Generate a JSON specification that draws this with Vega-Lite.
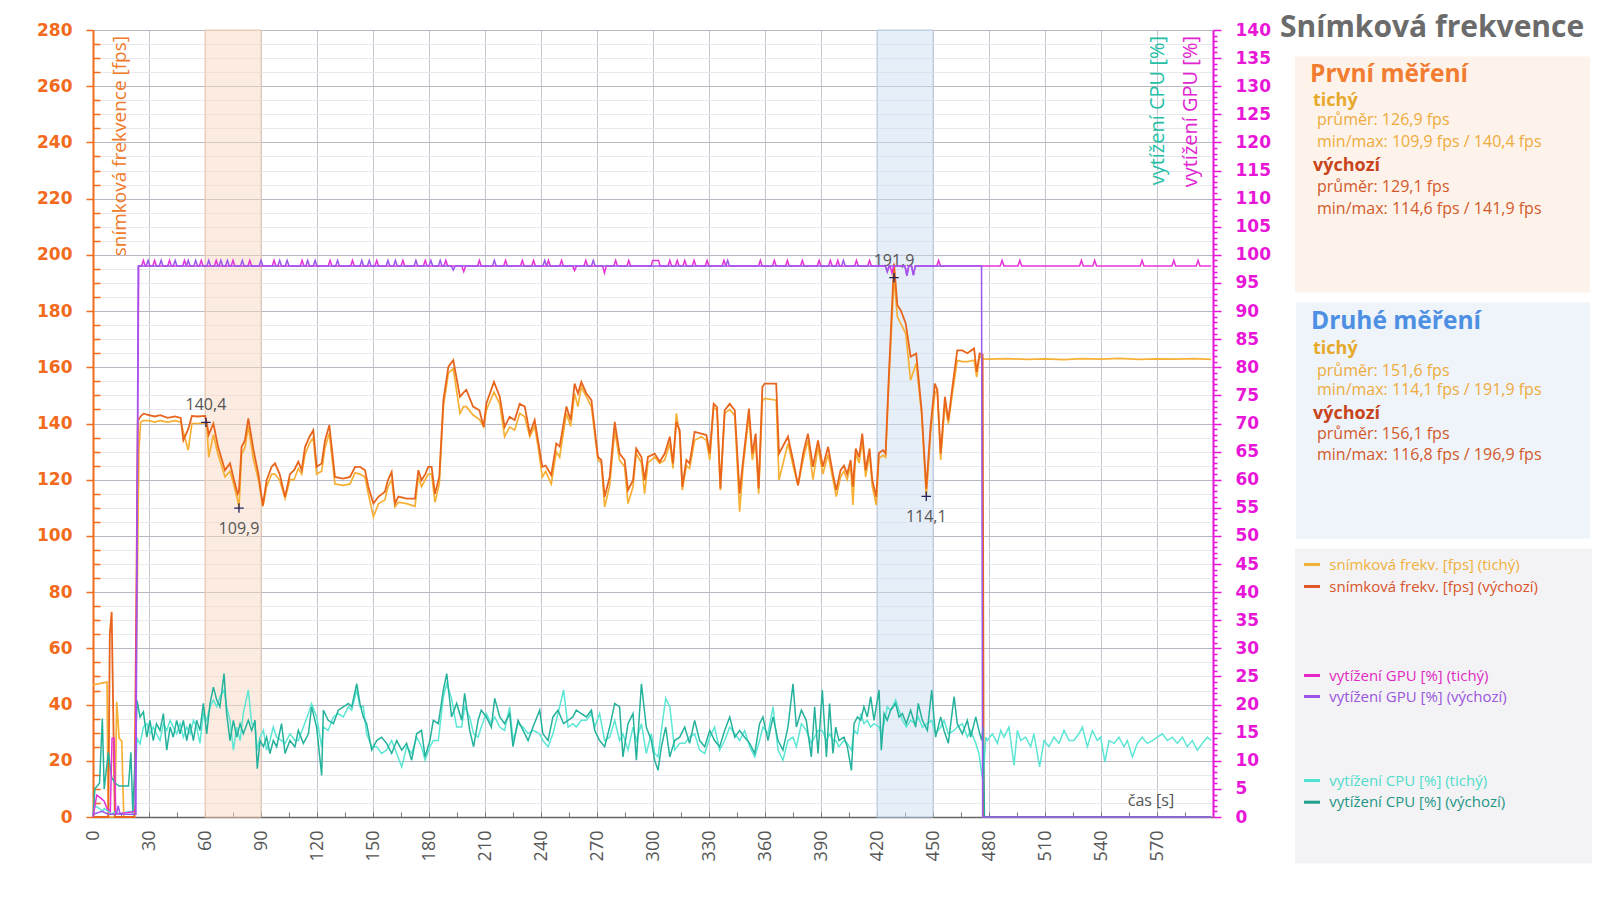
{
"$schema": "https://vega.github.io/schema/vega-lite/v6.json",
"background": "white",
"padding": {"left": 36, "top": 12, "right": 0, "bottom": 0},
"config": {"view": {"stroke": null}, "font": "Open Sans"},
"spacing": 67,
"bounds": "flush",
"datasets": {
"bands": [{"t":60,"t2":90,"band":"první"},{"t":420,"t2":450,"band":"druhé"}],
"ann": [{"t":60.5,"v":140.4,"label":"140,4","pos":"up"},{"t":78.2,"v":109.9,"label":"109,9","pos":"down"},{"t":429.1,"v":191.9,"label":"191,9","pos":"up"},{"t":446.4,"v":114.1,"label":"114,1","pos":"down"}],
"fps": [
{"t":0,"a":47,"b":0},{"t":7.5,"a":48,"b":0},{"t":8.2,"a":0,"b":0},{"t":9,"b":65},{"t":10,"b":73},{"t":11.7,"a":0,"b":0},{"t":12.7,"a":41},{"t":14,"a":28},{"t":15.4,"a":27},{"t":16.5,"a":0},{"t":22.2,"a":0,"b":0},{"t":24,"b":141},{"t":24.6,"a":130.5},{"t":25.5,"a":140.5,"b":142.5},
{"t":27,"a":141,"b":143.5},{"t":30,"a":141,"b":143},{"t":33,"a":140.5,"b":142.5},{"t":36,"a":141,"b":143},{"t":40,"a":140.5,"b":142},{"t":44,"a":141,"b":142.5},{"t":47,"a":140.5,"b":142},{"t":48.4,"a":137,"b":134},{"t":51,"a":130.5,"b":138},{"t":53,"a":140,"b":142.7},{"t":56,"a":140,"b":142.5},{"t":60,"a":140.2,"b":142.7},{"t":61,"a":139,"b":140},{"t":62,"a":128,"b":136},{"t":64.5,"a":136,"b":140},{"t":67,"a":129,"b":131.7},{"t":70.7,"a":121,"b":123.4},{"t":73.4,"a":123,"b":125.8},{"t":75.5,"a":118,"b":120},{"t":77.5,"a":112.7,"b":115},{"t":78.2,"a":109.9,"b":116},{"t":79.6,"a":129,"b":131.7},{"t":81.4,"a":131.5,"b":134},{"t":83.2,"a":139,"b":141.8},{"t":86,"a":127,"b":130.5},{"t":88.6,"a":120,"b":122},{"t":91,"a":110.5,"b":110.8},{"t":93,"a":117.5,"b":119.8},{"t":95.7,"a":122,"b":124.6},{"t":97.5,"a":122,"b":125.8},{"t":100,"a":119.8,"b":122},{"t":102.9,"a":113.3,"b":113.9},{"t":105.5,"a":120,"b":122},{"t":107.7,"a":120,"b":123.4},{"t":110,"a":124,"b":126.4},{"t":111.8,"a":122,"b":123.4},{"t":113.6,"a":129,"b":131.7},{"t":116,"a":133,"b":135.3},{"t":118,"a":135,"b":137.6},{"t":119.8,"a":122,"b":124.6},{"t":122.5,"a":123,"b":125.8},{"t":124.3,"a":131.5,"b":134},{"t":126.6,"a":136.5,"b":139.4},{"t":129.6,"a":118.5,"b":121},{"t":134,"a":118,"b":120.4},{"t":137.7,"a":118.5,"b":121},{"t":140.4,"a":122.5,"b":124.6},{"t":143,"a":122,"b":124.6},{"t":145.7,"a":121,"b":123.4},{"t":147.5,"a":115,"b":117.5},{"t":150.2,"a":106.8,"b":111.5},{"t":153,"a":111.5,"b":114},{"t":156.4,"a":112.8,"b":115.7},{"t":158,"a":117.5,"b":119.8},{"t":160,"a":120,"b":122.8},{"t":161.8,"a":110.3,"b":111.5},{"t":163.6,"a":112,"b":114},{"t":168,"a":111.5,"b":113.3},{"t":172.5,"a":110.5,"b":113.3},{"t":174.3,"a":121,"b":123.4},{"t":176,"a":117.5,"b":119.8},{"t":178,"a":120,"b":122},{"t":179.6,"a":122,"b":124.6},{"t":181.4,"a":122,"b":124.6},{"t":183.2,"a":112,"b":115},{"t":185.5,"a":118.5,"b":121},{"t":187.7,"a":146,"b":148.3},{"t":190.4,"a":158,"b":160.2},{"t":193,"a":159.5,"b":162.5},{"t":196.6,"a":143.6,"b":149.5},{"t":198.5,"a":146,"b":151},{"t":200,"a":146,"b":152},{"t":203.6,"a":143,"b":146},{"t":207,"a":141.5,"b":144.7},{"t":209.3,"a":138.8,"b":138.8},{"t":210.7,"a":144.7,"b":147},{"t":214.8,"a":151.2,"b":154.8},{"t":217.9,"a":147,"b":149.5},{"t":220.5,"a":135.3,"b":138.8},{"t":223.2,"a":138.8,"b":142.4},{"t":225.9,"a":137.6,"b":141.2},{"t":228.6,"a":143.6,"b":147},{"t":231.3,"a":142.4,"b":146},{"t":234,"a":135.3,"b":136.4},{"t":236.6,"a":139,"b":141.2},{"t":238.4,"a":132,"b":134},{"t":240.7,"a":121,"b":124.6},{"t":242.5,"a":123,"b":125},{"t":245.5,"a":118.5,"b":121.6},{"t":248.2,"a":130,"b":132.9},{"t":250,"a":128,"b":131.8},{"t":253.6,"a":143.6,"b":146},{"t":255.9,"a":139,"b":141.2},{"t":258,"a":150.7,"b":154.2},{"t":259.8,"a":146,"b":150.7},{"t":261.6,"a":153,"b":154.8},{"t":264.3,"a":149.5,"b":150.7},{"t":267,"a":146,"b":148.3},{"t":270.5,"a":127,"b":128.1},{"t":272.3,"a":126,"b":127},{"t":274.1,"a":110.3,"b":113.9},{"t":276.8,"a":118,"b":121},{"t":279.5,"a":137.6,"b":140.6},{"t":282.1,"a":127,"b":129.3},{"t":284.8,"a":124.6,"b":127},{"t":286.6,"a":111.5,"b":116.3},{"t":289.3,"a":117.5,"b":119.8},{"t":291,"a":129.3,"b":131.1},{"t":293.8,"a":126,"b":128.1},{"t":295.5,"a":115,"b":119.8},{"t":297.3,"a":126,"b":128.1},{"t":300.9,"a":128.1,"b":129.3},{"t":303.6,"a":125.8,"b":126.4},{"t":306.3,"a":127,"b":129.3},{"t":309,"a":133,"b":135.3},{"t":310.7,"a":124,"b":125.8},{"t":312.5,"a":143.6,"b":140.6},{"t":314.3,"a":136,"b":137.6},{"t":315.7,"a":116.3,"b":117.5},{"t":317.9,"a":125,"b":127},{"t":319.6,"a":124,"b":125.8},{"t":322.3,"a":134,"b":137},{"t":325.9,"a":135.3,"b":136.4},{"t":328.6,"a":134,"b":135.9},{"t":330.4,"a":127,"b":129.3},{"t":332.5,"a":145.8,"b":147},{"t":334.3,"a":144.7,"b":145.8},{"t":336.1,"a":116.3,"b":116.9},{"t":338.4,"a":143.6,"b":144.7},{"t":341.1,"a":145,"b":147},{"t":343.8,"a":142.8,"b":144.7},{"t":346.4,"a":108.6,"b":115.1},{"t":348.2,"a":124,"b":126.4},{"t":351.4,"a":143,"b":145.3},{"t":353.2,"a":127,"b":129.3},{"t":355,"a":133,"b":136.4},{"t":356.6,"a":115,"b":116.9},{"t":358.6,"a":148,"b":153},{"t":359.8,"a":148.9,"b":154.2},{"t":366,"a":148.3,"b":154.2},{"t":367.5,"a":120,"b":129.3},{"t":372.3,"a":132.9,"b":135.3},{"t":375,"a":125,"b":127},{"t":377.7,"a":118,"b":118},{"t":380.4,"a":127,"b":129.3},{"t":383,"a":134,"b":136.4},{"t":385.7,"a":120,"b":124.6},{"t":388.4,"a":131.7,"b":134},{"t":391,"a":122,"b":124.6},{"t":393.8,"a":129,"b":131.7},{"t":396.4,"a":120,"b":122},{"t":398.2,"a":114,"b":116.3},{"t":400.5,"a":121,"b":123.4},{"t":402.3,"a":123,"b":125},{"t":404,"a":120,"b":122},{"t":405.9,"a":125,"b":127},{"t":407.1,"a":111,"b":117.5},{"t":408.6,"a":129.3,"b":131.1},{"t":410.4,"a":126,"b":128},{"t":412.1,"a":134,"b":136.4},{"t":413.9,"a":121,"b":123.4},{"t":416,"a":129,"b":131.1},{"t":417.5,"a":117.5,"b":119.8},{"t":419.6,"a":111,"b":113.9},{"t":421,"a":127.6,"b":129.5},{"t":423.2,"a":128.7,"b":130.5},{"t":424.6,"a":128,"b":129.3},{"t":426.4,"a":155.4,"b":157.8},{"t":429.1,"a":191.9,"b":196.9},{"t":430.9,"a":178,"b":182.1},{"t":432.7,"a":175.6,"b":180.3},{"t":435.4,"a":172,"b":175.6},{"t":438,"a":155.4,"b":163.7},{"t":441,"a":161.4,"b":164.9},{"t":443.9,"a":143.6,"b":144.7},{"t":446.4,"a":114.1,"b":116.8},{"t":448.7,"a":136.4,"b":138.8},{"t":451,"a":150.7,"b":154.2},{"t":452.3,"a":152,"b":151.9},{"t":454.1,"a":127,"b":129.3},{"t":456.4,"a":147,"b":149.5},{"t":458.2,"a":140,"b":141.2},{"t":460.4,"a":150.7,"b":153},{"t":463,"a":162.5,"b":166},{"t":465.7,"a":162,"b":166},{"t":468.4,"a":162,"b":165},{"t":472,"a":162.5,"b":166.7},{"t":473.4,"a":156.5,"b":158.4},{"t":475,"a":164,"b":164.9},{"t":476.6,"a":163,"b":164.5},{"t":477.2,"b":0},
{"t":480,"a":162.9},{"t":490,"a":163.1},{"t":500,"a":162.8},{"t":510,"a":163},{"t":520,"a":162.7},{"t":530,"a":163.1},{"t":540,"a":162.9},{"t":550,"a":163.2},{"t":560,"a":162.8},{"t":570,"a":163},{"t":580,"a":162.9},{"t":590,"a":163.1},{"t":599,"a":162.8,"b":0}
],
"cpu": [
{"t":0,"c":0,"d":0},{"t":1,"c":2,"d":5},{"t":3.5,"c":1.5,"d":6},{"t":5,"c":1,"d":17.5},{"t":6,"c":1.5,"d":5},{"t":8.2,"c":1,"d":11.5},{"t":10,"c":0.5,"d":7},{"t":12,"c":1,"d":6},{"t":14,"c":0.5,"d":5.5},{"t":19,"c":1,"d":5.5},{"t":20.3,"c":1,"d":11.5},{"t":21.3,"c":0.5,"d":1},{"t":22.3,"c":3,"d":8},{"t":23.6,"c":14,"d":20.7},
{"t":25.2,"c":13,"d":17.8},{"t":27,"c":16,"d":18.7},{"t":28.8,"c":16.6,"d":14.2},{"t":30.5,"c":14.8,"d":17.2},{"t":32.3,"c":16,"d":13.6},{"t":34,"c":14.8,"d":16.6},{"t":35.9,"c":13.6,"d":15.4},{"t":37.7,"c":16.6,"d":18.4},{"t":39.5,"c":15.4,"d":11.9},{"t":41.3,"c":17.2,"d":16},{"t":43,"c":16,"d":14.2},{"t":44.8,"c":14.8,"d":17.2},{"t":46.6,"c":16.6,"d":14.8},{"t":48.4,"c":14.2,"d":17.2},{"t":50.2,"c":16,"d":13.6},{"t":52,"c":14.8,"d":16.6},{"t":53.8,"c":17.2,"d":13.6},{"t":55.5,"c":16,"d":17.2},{"t":57.3,"c":13.1,"d":15.4},{"t":59.1,"c":18.4,"d":20.2},{"t":60.9,"c":17.2,"d":14.8},{"t":62.7,"c":19.6,"d":20.2},{"t":64.5,"c":20.8,"d":23.1},{"t":66.3,"c":19.6,"d":20.8},{"t":68,"c":21.4,"d":19.6},{"t":70.2,"c":22.6,"d":25.5},{"t":71.6,"c":19.6,"d":18.4},{"t":73.4,"c":17.2,"d":13.6},{"t":75.2,"c":11.9,"d":17.2},{"t":77,"c":16,"d":14.2},{"t":78.8,"c":13.6,"d":16.6},{"t":80.5,"c":18.4,"d":14.8},{"t":83.2,"c":22.6,"d":17.2},{"t":85,"c":16.6,"d":15.4},{"t":86.8,"c":16,"d":17.2},{"t":88,"c":11.9,"d":8.6},{"t":89.5,"c":14.2,"d":13.6},{"t":91.3,"c":15.4,"d":12.5},{"t":93,"c":11.9,"d":14.2},{"t":94.8,"c":13.6,"d":11.3},{"t":96.6,"c":16,"d":13.6},{"t":98.4,"c":14.2,"d":12.5},{"t":101,"c":13.6,"d":16.6},{"t":102.9,"c":13.1,"d":11.3},{"t":105.5,"c":14.8,"d":13.6},{"t":108.2,"c":13.6,"d":12.5},{"t":110,"c":13.6,"d":15.4},{"t":112.7,"c":16,"d":13.1},{"t":115.4,"c":18.4,"d":14.8},{"t":117.1,"c":20.2,"d":19.6},{"t":119.8,"c":17.8,"d":16},{"t":122.5,"c":12.5,"d":7.4},{"t":123.4,"c":16,"d":19},{"t":126,"c":15.4,"d":17.2},{"t":128.8,"c":17.8,"d":16.6},{"t":131.4,"c":18.4,"d":19},{"t":134.1,"c":17.8,"d":19.6},{"t":136.8,"c":19.6,"d":20.2},{"t":138.6,"c":19,"d":19.6},{"t":141.3,"c":22.6,"d":23.7},{"t":143,"c":19.6,"d":20.2},{"t":144.8,"c":19.6,"d":17.8},{"t":146.6,"c":14.8,"d":16.6},{"t":149.3,"c":12.5,"d":11.9},{"t":152,"c":12.5,"d":13.6},{"t":154.6,"c":11.3,"d":14.2},{"t":157.3,"c":11.9,"d":13.1},{"t":160,"c":13.6,"d":11.3},{"t":162.7,"c":11.3,"d":13.6},{"t":165.4,"c":8.9,"d":11.9},{"t":168,"c":12.5,"d":13.1},{"t":170.7,"c":11.3,"d":10.1},{"t":173.4,"c":14.2,"d":14.8},{"t":176,"c":12.5,"d":15.4},{"t":177.9,"c":10.1,"d":10.7},{"t":180.5,"c":12.5,"d":13.6},{"t":182.3,"c":13.6,"d":17.2},{"t":185,"c":13.6,"d":16.6},{"t":187.7,"c":21.4,"d":22.6},{"t":189.5,"c":23.7,"d":25.5},{"t":192.1,"c":21.1,"d":17.8},{"t":194.8,"c":16,"d":20.2},{"t":197.5,"c":16,"d":17.2},{"t":199.1,"c":19.6,"d":22},{"t":201.8,"c":17.8,"d":15.4},{"t":203.9,"c":14.8,"d":12.5},{"t":206.3,"c":14.2,"d":17.2},{"t":208,"c":16,"d":19},{"t":210.7,"c":18.4,"d":17.8},{"t":213.4,"c":16.6,"d":16},{"t":215.2,"c":17.8,"d":21.1},{"t":217.9,"c":16,"d":17.8},{"t":220.5,"c":15.4,"d":16.6},{"t":223.2,"c":19.6,"d":18.4},{"t":225,"c":13.6,"d":12.5},{"t":227.7,"c":16.6,"d":17.2},{"t":230.4,"c":16,"d":15.4},{"t":233.1,"c":14.8,"d":13.6},{"t":235.7,"c":15.4,"d":16},{"t":239.3,"c":14.8,"d":19},{"t":241,"c":13.6,"d":14.8},{"t":243.8,"c":12.5,"d":13.6},{"t":246.4,"c":14.8,"d":17.8},{"t":249.1,"c":18.4,"d":19},{"t":252.1,"c":22.6,"d":16.6},{"t":254.5,"c":16,"d":17.2},{"t":257.1,"c":16.6,"d":17.8},{"t":258.9,"c":16,"d":19},{"t":261.6,"c":17.2,"d":18.4},{"t":264.3,"c":17.2,"d":17.8},{"t":267,"c":18.4,"d":19},{"t":268.8,"c":16,"d":15.4},{"t":271.4,"c":18.4,"d":13.6},{"t":274.1,"c":13.6,"d":12.5},{"t":276.8,"c":14.2,"d":16},{"t":279.5,"c":17.2,"d":20.2},{"t":282.1,"c":13.6,"d":19.6},{"t":283.9,"c":14.8,"d":10.7},{"t":286.6,"c":11.9,"d":16.6},{"t":289.3,"c":16,"d":18.4},{"t":291.1,"c":13.6,"d":10.1},{"t":293.8,"c":16.6,"d":23.7},{"t":296.4,"c":11.3,"d":16},{"t":299.1,"c":14.8,"d":13.6},{"t":300.9,"c":11.3,"d":10.1},{"t":302.7,"c":10.7,"d":8.3},{"t":304.5,"c":15.4,"d":12.5},{"t":306.8,"c":21.1,"d":16},{"t":309,"c":19.6,"d":10.7},{"t":311.6,"c":11.9,"d":13.6},{"t":314.3,"c":13.1,"d":14.2},{"t":317,"c":13.1,"d":16},{"t":319.6,"c":14.2,"d":13.1},{"t":322.3,"c":14.8,"d":17.2},{"t":325,"c":11.9,"d":13.6},{"t":327.7,"c":11.3,"d":12.5},{"t":330.4,"c":14.2,"d":15.4},{"t":333,"c":16,"d":13.6},{"t":335.7,"c":11.9,"d":12.5},{"t":338.4,"c":13.6,"d":15.4},{"t":341.1,"c":16,"d":17.8},{"t":343.8,"c":14.8,"d":14.2},{"t":346.4,"c":13.6,"d":15.4},{"t":349.1,"c":15.4,"d":14.2},{"t":351.8,"c":12.5,"d":13.1},{"t":354.5,"c":10.7,"d":11.3},{"t":357.1,"c":13.6,"d":16.6},{"t":358.9,"c":16,"d":17.8},{"t":361.6,"c":14.8,"d":13.6},{"t":364.3,"c":19.6,"d":17.8},{"t":367,"c":11.9,"d":13.6},{"t":369.6,"c":10.1,"d":11.9},{"t":372.3,"c":13.6,"d":16},{"t":375,"c":14.2,"d":23.7},{"t":376.8,"c":12.5,"d":16},{"t":379.5,"c":16.6,"d":19},{"t":382.1,"c":15.4,"d":17.2},{"t":384.8,"c":13.1,"d":10.7},{"t":386.6,"c":14.2,"d":19.6},{"t":388.4,"c":15.4,"d":11.3},{"t":390.7,"c":15.4,"d":22.6},{"t":392.9,"c":13.6,"d":10.7},{"t":394.6,"c":14.8,"d":20.2},{"t":396.4,"c":13.6,"d":11.3},{"t":397.9,"c":13.6,"d":16},{"t":399.6,"c":12.5,"d":13.6},{"t":402.3,"c":13.6,"d":14.2},{"t":404.1,"c":13.1,"d":12.5},{"t":406.3,"c":11.9,"d":8.3},{"t":407.7,"c":15.4,"d":16.6},{"t":409.5,"c":14.8,"d":17.8},{"t":411.3,"c":18.4,"d":17.2},{"t":413,"c":16.6,"d":19.6},{"t":414.8,"c":17.2,"d":17.8},{"t":416.6,"c":16,"d":21.4},{"t":418.4,"c":16.6,"d":17.2},{"t":421.1,"c":16,"d":22.6},{"t":422.3,"c":14.8,"d":11.9},{"t":423.8,"c":16.6,"d":18.4},{"t":425.5,"c":19.6,"d":17.2},{"t":427.3,"c":19,"d":19},{"t":430,"c":20.8,"d":20.2},{"t":431.8,"c":19,"d":17.8},{"t":433.6,"c":17.2,"d":18.4},{"t":435.7,"c":16,"d":16.6},{"t":438,"c":17.2,"d":19},{"t":440.7,"c":16.6,"d":16},{"t":442.1,"c":17.8,"d":20.2},{"t":444.3,"c":16,"d":17.2},{"t":447,"c":16.6,"d":15.4},{"t":449.3,"c":17.2,"d":22.6},{"t":451.4,"c":14.8,"d":14.2},{"t":454.1,"c":16,"d":17.8},{"t":455.9,"c":17.2,"d":15.4},{"t":458.2,"c":14.8,"d":13.1},{"t":461.3,"c":15.4,"d":21.4},{"t":463,"c":16,"d":16.6},{"t":465.7,"c":16.6,"d":14.8},{"t":468.4,"c":14.2,"d":17.2},{"t":470.2,"c":15.4,"d":14.2},{"t":472.9,"c":13.1,"d":17.8},{"t":474.6,"c":11.3,"d":15.4},{"t":476.1,"c":7.7,"d":13.6},{"t":476.8,"c":6.5,"d":16},{"t":477.6,"d":0},{"t":478.3,"c":14.2},
{"t":479.1,"c":13.6},{"t":481.8,"c":14.8},{"t":484.5,"c":13.1},{"t":486.3,"c":15.4},{"t":488,"c":14.2},{"t":490.7,"c":16},{"t":493.4,"c":9.2},{"t":495.2,"c":15.4},{"t":497,"c":13.6},{"t":499.6,"c":14.2},{"t":502.3,"c":12.5},{"t":504.1,"c":14.8},{"t":507.1,"c":8.9},{"t":509.5,"c":13.6},{"t":512.1,"c":12.5},{"t":514.8,"c":14.2},{"t":517.5,"c":13.1},{"t":520.2,"c":15.4},{"t":522.9,"c":13.6},{"t":525.5,"c":13.6},{"t":528.2,"c":14.8},{"t":530,"c":16},{"t":532.7,"c":12.5},{"t":535.4,"c":15.4},{"t":538,"c":13.6},{"t":539.8,"c":14.2},{"t":542.1,"c":9.8},{"t":544.3,"c":13.6},{"t":547,"c":13.1},{"t":549.6,"c":14.2},{"t":552.3,"c":12.5},{"t":554.1,"c":13.6},{"t":556.8,"c":10.7},{"t":559.5,"c":13.1},{"t":562.1,"c":14.2},{"t":564.8,"c":13.1},{"t":567.5,"c":13.6},{"t":570.2,"c":14.2},{"t":572.9,"c":14.8},{"t":575.5,"c":13.6},{"t":578.2,"c":14.2},{"t":580.9,"c":13.1},{"t":583.6,"c":14.2},{"t":586.2,"c":12.5},{"t":588.9,"c":13.6},{"t":591.6,"c":11.9},{"t":594.3,"c":13.1},{"t":597,"c":14.2},{"t":599,"c":13.6,"d":0}
],
"gpu": [
{"t":0,"g":0},{"t":2,"g":3.9},{"t":4,"g":3.4},{"t":6,"g":2.8},{"t":7.5,"g":1.5},{"t":9.3,"g":1},{"t":10.2,"g":14},{"t":11.3,"g":14},{"t":12.2,"g":0.5},{"t":22.6,"g":1},{"t":24.5,"g":98},
{"t":26,"g":98},{"t":27,"g":99},{"t":28,"g":98},{"t":32,"g":98},{"t":33,"g":99},{"t":34,"g":98},{"t":40,"g":98},{"t":41,"g":99},{"t":42,"g":98},{"t":48,"g":98},{"t":49,"g":99},{"t":50,"g":98},{"t":57,"g":98},{"t":58,"g":99},{"t":59,"g":98},{"t":65,"g":98},{"t":66,"g":99},{"t":67,"g":98},{"t":74,"g":98},{"t":75,"g":99},{"t":76,"g":98},{"t":83,"g":98},{"t":84,"g":99},{"t":85,"g":98},{"t":96,"g":98},{"t":97,"g":99},{"t":98,"g":98},{"t":111,"g":98},{"t":112,"g":99},{"t":113,"g":98},{"t":126,"g":98},{"t":127,"g":99},{"t":128,"g":98},{"t":138,"g":98},{"t":139,"g":99},{"t":140,"g":98},{"t":151,"g":98},{"t":152,"g":99},{"t":153,"g":98},{"t":165,"g":98},{"t":166,"g":99},{"t":167,"g":98},{"t":177,"g":98},{"t":178,"g":99},{"t":179,"g":98},{"t":188,"g":98},{"t":189,"g":99},{"t":190,"g":98},{"t":197.6,"g":98},{"t":198.6,"g":97},{"t":199.6,"g":98},{"t":206,"g":98},{"t":207,"g":99},{"t":208,"g":98},{"t":220,"g":98},{"t":221,"g":99},{"t":222,"g":98},{"t":229,"g":98},{"t":230,"g":99},{"t":231,"g":98},{"t":235,"g":98},{"t":236,"g":99},{"t":237,"g":98},{"t":243,"g":98},{"t":244,"g":99},{"t":245,"g":98},{"t":250,"g":98},{"t":251,"g":99},{"t":252,"g":98},{"t":257,"g":98},{"t":258,"g":97.2},{"t":259,"g":98},{"t":263,"g":98},{"t":264,"g":99},{"t":265,"g":98},{"t":273,"g":98},{"t":274,"g":96.8},{"t":275,"g":98},{"t":279,"g":98},{"t":280,"g":99},{"t":281,"g":98},{"t":286,"g":98},{"t":287,"g":99},{"t":288,"g":98},{"t":299,"g":98},{"t":299.8,"g":99},{"t":303,"g":99},{"t":303.8,"g":98},{"t":308,"g":98},{"t":309,"g":99},{"t":310,"g":98},{"t":312,"g":98},{"t":313,"g":99},{"t":314,"g":98},{"t":316,"g":98},{"t":317,"g":99},{"t":318,"g":98},{"t":321,"g":98},{"t":322,"g":99},{"t":323,"g":98},{"t":328,"g":98},{"t":329,"g":99},{"t":330,"g":98},{"t":337,"g":98},{"t":338,"g":99},{"t":339,"g":98},{"t":356.5,"g":98},{"t":357.5,"g":99},{"t":358.5,"g":98},{"t":364,"g":98},{"t":365,"g":99},{"t":366,"g":98},{"t":371,"g":98},{"t":372,"g":99},{"t":373,"g":98},{"t":379,"g":98},{"t":380,"g":99},{"t":381,"g":98},{"t":388,"g":98},{"t":389,"g":99},{"t":390,"g":98},{"t":394,"g":98},{"t":395,"g":99},{"t":396,"g":98},{"t":398,"g":98},{"t":399,"g":99},{"t":400,"g":98},{"t":408,"g":98},{"t":409,"g":99},{"t":410,"g":98},{"t":415,"g":98},{"t":416,"g":99},{"t":417,"g":98},{"t":424.5,"g":98},{"t":425.5,"g":97},{"t":426.5,"g":98},{"t":427,"g":98},{"t":428,"g":96.8},{"t":429,"g":98},{"t":435,"g":98},{"t":436,"g":96.3},{"t":437,"g":98},{"t":438.5,"g":98},{"t":439.5,"g":96.4},{"t":440.5,"g":98},{"t":452,"g":98},{"t":453,"g":99},{"t":454,"g":98},{"t":486,"g":98},{"t":487,"g":99},{"t":488,"g":98},{"t":495.5,"g":98},{"t":496.5,"g":99},{"t":497.5,"g":98},{"t":528.5,"g":98},{"t":529.5,"g":99},{"t":530.5,"g":98},{"t":535.6,"g":98},{"t":536.6,"g":99},{"t":537.6,"g":98},{"t":561,"g":98},{"t":562,"g":99},{"t":563,"g":98},{"t":578,"g":98},{"t":579,"g":99},{"t":580,"g":98},{"t":591,"g":98},{"t":592,"g":99},{"t":593,"g":98},{"t":599,"g":98},
{"t":0,"h":0.5},{"t":5,"h":1},{"t":8,"h":0.5},{"t":12.5,"h":0.5},{"t":13.5,"h":2},{"t":14.5,"h":0.5},{"t":23,"h":0.5},{"t":24.2,"h":98},
{"t":28.5,"h":98},{"t":29.5,"h":99},{"t":30.5,"h":98},{"t":35.5,"h":98},{"t":36.5,"h":99},{"t":37.5,"h":98},{"t":43,"h":98},{"t":44,"h":99},{"t":45,"h":98},{"t":50,"h":98},{"t":51,"h":99},{"t":52,"h":98},{"t":54,"h":98},{"t":55,"h":99},{"t":56,"h":98},{"t":61,"h":98},{"t":62,"h":99},{"t":63,"h":98},{"t":67.5,"h":98},{"t":68.5,"h":99},{"t":69.5,"h":98},{"t":71,"h":98},{"t":72,"h":99},{"t":73,"h":98},{"t":79,"h":98},{"t":80,"h":99},{"t":81,"h":98},{"t":89,"h":98},{"t":90,"h":99},{"t":91,"h":98},{"t":99,"h":98},{"t":100,"h":99},{"t":101,"h":98},{"t":103,"h":98},{"t":104,"h":99},{"t":105,"h":98},{"t":114,"h":98},{"t":115,"h":99},{"t":116,"h":98},{"t":118,"h":98},{"t":119,"h":99},{"t":120,"h":98},{"t":130,"h":98},{"t":131,"h":99},{"t":132,"h":98},{"t":143,"h":98},{"t":144,"h":99},{"t":145,"h":98},{"t":147,"h":98},{"t":148,"h":99},{"t":149,"h":98},{"t":157,"h":98},{"t":158,"h":99},{"t":159,"h":98},{"t":161,"h":98},{"t":162,"h":99},{"t":163,"h":98},{"t":172,"h":98},{"t":173,"h":99},{"t":174,"h":98},{"t":180,"h":98},{"t":181,"h":99},{"t":182,"h":98},{"t":185,"h":98},{"t":186,"h":99},{"t":187,"h":98},{"t":192,"h":98},{"t":193,"h":97.3},{"t":194,"h":98},{"t":214,"h":98},{"t":215,"h":99},{"t":216,"h":98},{"t":241,"h":98},{"t":242,"h":99},{"t":243,"h":98},{"t":267,"h":98},{"t":268,"h":99},{"t":269,"h":98},{"t":339,"h":98},{"t":340,"h":99},{"t":341,"h":98},{"t":401,"h":98},{"t":402,"h":99},{"t":403,"h":98},{"t":424.5,"h":98},{"t":425.5,"h":97},{"t":426.5,"h":98},{"t":435,"h":98},{"t":436,"h":96.3},{"t":437,"h":98},{"t":438.5,"h":98},{"t":439.5,"h":96.4},{"t":440.5,"h":98},{"t":476,"h":98},{"t":476.6,"h":0},{"t":599,"h":0}
]
},
"hconcat": [
{
"width": 1120,
"height": 787,
"encoding": {"x": {"field": "t", "type": "quantitative", "scale": {"domain": [0, 600], "nice": false, "zero": false},
  "axis": {"values": [0,15,30,45,60,75,90,105,120,135,150,165,180,195,210,225,240,255,270,285,300,315,330,345,360,375,390,405,420,435,450,465,480,495,510,525,540,555,570,585],
   "labelExpr": "datum.value % 30 === 0 ? datum.label : ''", "labelOverlap": false, "labelFlush": false, "labelAngle": -90,
   "labelFont": "Open Sans", "labelFontSize": 18, "labelColor": "#555555", "labelPadding": 18,
   "tickColor": "#777777", "tickSize": -5, "tickWidth": 1, "domainColor": "#666666", "domainWidth": 1.5,
   "grid": true, "gridColor": "#c5c5cd", "gridOpacity": {"condition": {"test": "datum.value % 30 === 0", "value": 1}, "value": 0},
   "title": "čas [s]", "titleFont": "Open Sans", "titleFontSize": 16, "titleFontWeight": "normal", "titleColor": "#555555",
   "titleX": 1057.5, "titleY": -12, "titleAlign": "center", "titleBaseline": "alphabetic"}}},
"layer": [
  {"data": {"name": "bands"}, "mark": {"type": "rect", "fillOpacity": 0.5, "strokeWidth": 1},
   "encoding": {"x2": {"field": "t2"},
    "color": {"field": "band", "type": "nominal", "scale": {"domain": ["první", "druhé"], "range": ["#f7d8c2", "#cddef2"]}, "legend": null},
    "stroke": {"field": "band", "type": "nominal", "scale": {"domain": ["první", "druhé"], "range": ["#efcdb6", "#bcd0e6"]}, "legend": null}}},
  {"data": {"name": "fps"}, "transform": [{"filter": {"field": "a", "valid": true}}],
   "mark": {"type": "line", "color": "#f6b036", "strokeWidth": 1.7},
   "encoding": {"y": {"field": "a", "type": "quantitative", "scale": {"domain": [0, 280], "nice": false, "zero": true},
    "axis": {"orient": "left", "values": [0,5,10,15,20,25,30,35,40,45,50,55,60,65,70,75,80,85,90,95,100,105,110,115,120,125,130,135,140,145,150,155,160,165,170,175,180,185,190,195,200,205,210,215,220,225,230,235,240,245,250,255,260,265,270,275,280],
     "labelExpr": "datum.value % 20 === 0 ? datum.label : ''", "labelOverlap": false, "labelFlush": false,
     "labelFont": "DejaVu Sans", "labelFontSize": 17, "labelFontWeight": "bold", "labelColor": "#f26a1b", "labelPadding": 14,
     "tickColor": "#f26a1b", "tickWidth": 1.5, "tickSize": {"condition": {"test": "datum.value % 20 === 0", "value": 7}, "value": -7},
     "domainColor": "#f26a1b", "domainWidth": 2,
     "grid": true, "gridColor": {"condition": {"test": "datum.value % 20 === 0", "value": "#b8b8c2"}, "value": "#e8e8ef"},
     "title": "snímková frekvence [fps]", "titleFont": "Open Sans", "titleFontSize": 19, "titleFontWeight": "normal", "titleColor": "#f07a2a",
     "titleAngle": -90, "titleAlign": "right", "titleBaseline": "top", "titleX": 17, "titleY": 5.5}}}},
  {"data": {"name": "fps"}, "transform": [{"filter": {"field": "b", "valid": true}}],
   "mark": {"type": "line", "color": "#e8651d", "strokeWidth": 1.8},
   "encoding": {"y": {"field": "b", "type": "quantitative", "scale": {"domain": [0, 280], "nice": false, "zero": true}, "axis": null}}},
  {"data": {"name": "ann"}, "mark": {"type": "point", "shape": "M-1,0L1,0M0,-1L0,1", "filled": false, "stroke": "#23235e", "strokeWidth": 1.3, "size": 90, "opacity": 1},
   "encoding": {"y": {"field": "v", "type": "quantitative", "scale": {"domain": [0, 280], "nice": false, "zero": true}, "axis": null}}},
  {"data": {"name": "ann"}, "transform": [{"filter": "datum.pos === 'up'"}],
   "mark": {"type": "text", "dy": -17, "fontSize": 16, "font": "Open Sans", "color": "#555555"},
   "encoding": {"y": {"field": "v", "type": "quantitative", "scale": {"domain": [0, 280], "nice": false, "zero": true}, "axis": null}, "text": {"field": "label"}}},
  {"data": {"name": "ann"}, "transform": [{"filter": "datum.pos === 'down'"}],
   "mark": {"type": "text", "dy": 21, "fontSize": 16, "font": "Open Sans", "color": "#555555"},
   "encoding": {"y": {"field": "v", "type": "quantitative", "scale": {"domain": [0, 280], "nice": false, "zero": true}, "axis": null}, "text": {"field": "label"}}},
  {"data": {"name": "cpu"}, "transform": [{"filter": {"field": "c", "valid": true}}],
   "mark": {"type": "line", "color": "#5ce6d4", "strokeWidth": 1.5},
   "encoding": {"y": {"field": "c", "type": "quantitative", "scale": {"domain": [0, 140], "nice": false, "zero": true},
    "axis": {"orient": "right", "labels": false, "ticks": false, "domain": false, "grid": false,
     "title": "vytížení CPU [%]", "titleFont": "Open Sans", "titleFontSize": 20, "titleFontWeight": "normal", "titleColor": "#26bfa6",
     "titleAngle": -90, "titleAlign": "right", "titleBaseline": "top", "titleX": -66, "titleY": 5.5}}}},
  {"data": {"name": "cpu"}, "transform": [{"filter": {"field": "d", "valid": true}}],
   "mark": {"type": "line", "color": "#25b29c", "strokeWidth": 1.5},
   "encoding": {"y": {"field": "d", "type": "quantitative", "scale": {"domain": [0, 140], "nice": false, "zero": true}, "axis": null}}},
  {"data": {"name": "gpu"}, "transform": [{"filter": {"field": "g", "valid": true}}],
   "mark": {"type": "line", "color": "#e633d9", "strokeWidth": 1.5},
   "encoding": {"y": {"field": "g", "type": "quantitative", "scale": {"domain": [0, 140], "nice": false, "zero": true},
    "axis": {"orient": "right", "tickCount": 140, "labelExpr": "datum.value % 5 === 0 ? datum.label : ''", "labelOverlap": false, "labelFlush": false,
     "labelFont": "DejaVu Sans", "labelFontSize": 17, "labelFontWeight": "bold", "labelColor": "#e817d8", "labelPadding": 14,
     "tickColor": "#e817d8", "tickWidth": 1.5, "tickSize": {"condition": {"test": "datum.value % 5 === 0", "value": 8}, "value": 4},
     "domainColor": "#e817d8", "domainWidth": 2, "grid": false,
     "title": "vytížení GPU [%]", "titleFont": "Open Sans", "titleFontSize": 20, "titleFontWeight": "normal", "titleColor": "#e024cf",
     "titleAngle": -90, "titleAlign": "right", "titleBaseline": "top", "titleX": -33, "titleY": 5.5}}}},
  {"data": {"name": "gpu"}, "transform": [{"filter": {"field": "h", "valid": true}}],
   "mark": {"type": "line", "color": "#9b57ee", "strokeWidth": 1.5},
   "encoding": {"y": {"field": "h", "type": "quantitative", "scale": {"domain": [0, 140], "nice": false, "zero": true}, "axis": null}}}
],
"resolve": {"scale": {"y": "independent"}, "axis": {"y": "independent"}}
},
{
"width": 320,
"height": 872,
"data": {"values": [{}]},
"layer": [
 {"mark": {"type": "text", "text": "Snímková frekvence", "font": "Open Sans", "fontSize": 30, "fontWeight": "bold", "color": "#6b6b6b", "align": "left", "baseline": "alphabetic"},
  "encoding": {"x": {"datum": 0, "type": "quantitative", "scale": {"domain": [0, 320], "nice": false, "zero": false}, "axis": null},
   "y": {"datum": 6.5, "type": "quantitative", "scale": {"domain": [0, 872], "reverse": true, "nice": false, "zero": false}, "axis": null}}},
 {"mark": {"type": "rect", "color": "#fdf3ea"}, "encoding": {"x": {"datum": 15, "type": "quantitative", "axis": null}, "x2": {"datum": 310}, "y": {"datum": 26.5, "type": "quantitative", "axis": null}, "y2": {"datum": 262.5}}},
 {"mark": {"type": "rect", "color": "#eef4fa"}, "encoding": {"x": {"datum": 16, "type": "quantitative", "axis": null}, "x2": {"datum": 310}, "y": {"datum": 272.5, "type": "quantitative", "axis": null}, "y2": {"datum": 508.5}}},
 {"mark": {"type": "rect", "color": "#f3f3f5"}, "encoding": {"x": {"datum": 15, "type": "quantitative", "axis": null}, "x2": {"datum": 312}, "y": {"datum": 518.5, "type": "quantitative", "axis": null}, "y2": {"datum": 833.5}}},
 {"mark": {"type": "text", "text": "První měření", "font": "Open Sans", "fontSize": 24.5, "fontWeight": "bold", "color": "#f27c30", "align": "left", "baseline": "alphabetic"},
  "encoding": {"x": {"datum": 30, "type": "quantitative", "axis": null}, "y": {"datum": 52, "type": "quantitative", "axis": null}}},
 {"mark": {"type": "text", "text": "tichý", "font": "Open Sans", "fontSize": 18, "fontWeight": "bold", "color": "#e6a92c", "align": "left", "baseline": "alphabetic"},
  "encoding": {"x": {"datum": 33, "type": "quantitative", "axis": null}, "y": {"datum": 75.5, "type": "quantitative", "axis": null}}},
 {"mark": {"type": "text", "text": ["průměr: 126,9 fps", "min/max: 109,9 fps / 140,4 fps"], "lineHeight": 22, "font": "Open Sans", "fontSize": 16, "color": "#eeab3e", "align": "left", "baseline": "alphabetic"},
  "encoding": {"x": {"datum": 37, "type": "quantitative", "axis": null}, "y": {"datum": 95, "type": "quantitative", "axis": null}}},
 {"mark": {"type": "text", "text": "výchozí", "font": "Open Sans", "fontSize": 18, "fontWeight": "bold", "color": "#c8451c", "align": "left", "baseline": "alphabetic"},
  "encoding": {"x": {"datum": 33, "type": "quantitative", "axis": null}, "y": {"datum": 140.5, "type": "quantitative", "axis": null}}},
 {"mark": {"type": "text", "text": ["průměr: 129,1 fps", "min/max: 114,6 fps / 141,9 fps"], "lineHeight": 22, "font": "Open Sans", "fontSize": 16, "color": "#d35a2b", "align": "left", "baseline": "alphabetic"},
  "encoding": {"x": {"datum": 37, "type": "quantitative", "axis": null}, "y": {"datum": 161.5, "type": "quantitative", "axis": null}}},
 {"mark": {"type": "text", "text": "Druhé měření", "font": "Open Sans", "fontSize": 24.5, "fontWeight": "bold", "color": "#4d8fe3", "align": "left", "baseline": "alphabetic"},
  "encoding": {"x": {"datum": 31, "type": "quantitative", "axis": null}, "y": {"datum": 299, "type": "quantitative", "axis": null}}},
 {"mark": {"type": "text", "text": "tichý", "font": "Open Sans", "fontSize": 18, "fontWeight": "bold", "color": "#e6a92c", "align": "left", "baseline": "alphabetic"},
  "encoding": {"x": {"datum": 33, "type": "quantitative", "axis": null}, "y": {"datum": 323.5, "type": "quantitative", "axis": null}}},
 {"mark": {"type": "text", "text": ["průměr: 151,6 fps", "min/max: 114,1 fps / 191,9 fps"], "lineHeight": 19.4, "font": "Open Sans", "fontSize": 16, "color": "#eeab3e", "align": "left", "baseline": "alphabetic"},
  "encoding": {"x": {"datum": 37, "type": "quantitative", "axis": null}, "y": {"datum": 345.5, "type": "quantitative", "axis": null}}},
 {"mark": {"type": "text", "text": "výchozí", "font": "Open Sans", "fontSize": 18, "fontWeight": "bold", "color": "#c8451c", "align": "left", "baseline": "alphabetic"},
  "encoding": {"x": {"datum": 33, "type": "quantitative", "axis": null}, "y": {"datum": 388.5, "type": "quantitative", "axis": null}}},
 {"mark": {"type": "text", "text": ["průměr: 156,1 fps", "min/max: 116,8 fps / 196,9 fps"], "lineHeight": 21, "font": "Open Sans", "fontSize": 16, "color": "#d35a2b", "align": "left", "baseline": "alphabetic"},
  "encoding": {"x": {"datum": 37, "type": "quantitative", "axis": null}, "y": {"datum": 409, "type": "quantitative", "axis": null}}},
 {"mark": {"type": "rule", "color": "#f2b23a", "strokeWidth": 3}, "encoding": {"x": {"datum": 24, "type": "quantitative", "axis": null}, "x2": {"datum": 40}, "y": {"datum": 534.5, "type": "quantitative", "axis": null}}},
 {"mark": {"type": "rule", "color": "#e0582a", "strokeWidth": 3}, "encoding": {"x": {"datum": 24, "type": "quantitative", "axis": null}, "x2": {"datum": 40}, "y": {"datum": 556.5, "type": "quantitative", "axis": null}}},
 {"mark": {"type": "rule", "color": "#e626c8", "strokeWidth": 3}, "encoding": {"x": {"datum": 24, "type": "quantitative", "axis": null}, "x2": {"datum": 40}, "y": {"datum": 645.5, "type": "quantitative", "axis": null}}},
 {"mark": {"type": "rule", "color": "#9b55e6", "strokeWidth": 3}, "encoding": {"x": {"datum": 24, "type": "quantitative", "axis": null}, "x2": {"datum": 40}, "y": {"datum": 666.5, "type": "quantitative", "axis": null}}},
 {"mark": {"type": "rule", "color": "#4fe3d2", "strokeWidth": 3}, "encoding": {"x": {"datum": 24, "type": "quantitative", "axis": null}, "x2": {"datum": 40}, "y": {"datum": 750.5, "type": "quantitative", "axis": null}}},
 {"mark": {"type": "rule", "color": "#1f9e8c", "strokeWidth": 3}, "encoding": {"x": {"datum": 24, "type": "quantitative", "axis": null}, "x2": {"datum": 40}, "y": {"datum": 772.2, "type": "quantitative", "axis": null}}},
 {"mark": {"type": "text", "text": "snímková frekv. [fps] (tichý)", "font": "Open Sans", "fontSize": 15, "color": "#f0b03c", "align": "left", "baseline": "middle"},
  "encoding": {"x": {"datum": 49.3, "type": "quantitative", "axis": null}, "y": {"datum": 534.5, "type": "quantitative", "axis": null}}},
 {"mark": {"type": "text", "text": "snímková frekv. [fps] (výchozí)", "font": "Open Sans", "fontSize": 15, "color": "#d9532b", "align": "left", "baseline": "middle"},
  "encoding": {"x": {"datum": 49.3, "type": "quantitative", "axis": null}, "y": {"datum": 556.5, "type": "quantitative", "axis": null}}},
 {"mark": {"type": "text", "text": "vytížení GPU [%] (tichý)", "font": "Open Sans", "fontSize": 15, "color": "#e02ac4", "align": "left", "baseline": "middle"},
  "encoding": {"x": {"datum": 49.3, "type": "quantitative", "axis": null}, "y": {"datum": 645.5, "type": "quantitative", "axis": null}}},
 {"mark": {"type": "text", "text": "vytížení GPU [%] (výchozí)", "font": "Open Sans", "fontSize": 15, "color": "#9a56dd", "align": "left", "baseline": "middle"},
  "encoding": {"x": {"datum": 49.3, "type": "quantitative", "axis": null}, "y": {"datum": 666.5, "type": "quantitative", "axis": null}}},
 {"mark": {"type": "text", "text": "vytížení CPU [%] (tichý)", "font": "Open Sans", "fontSize": 15, "color": "#4fdccb", "align": "left", "baseline": "middle"},
  "encoding": {"x": {"datum": 49.3, "type": "quantitative", "axis": null}, "y": {"datum": 750.5, "type": "quantitative", "axis": null}}},
 {"mark": {"type": "text", "text": "vytížení CPU [%] (výchozí)", "font": "Open Sans", "fontSize": 15, "color": "#1f9685", "align": "left", "baseline": "middle"},
  "encoding": {"x": {"datum": 49.3, "type": "quantitative", "axis": null}, "y": {"datum": 772.2, "type": "quantitative", "axis": null}}}
]
}
]
}
